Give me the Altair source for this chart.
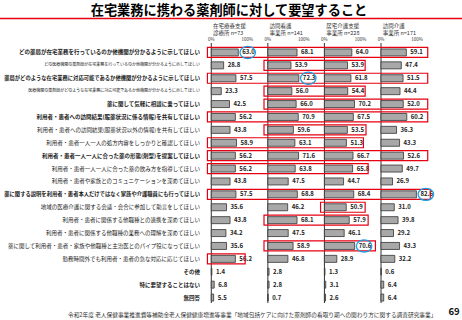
import altair as alt
import pandas as pd

TITLE = "在宅業務に携わる薬剤師に対して要望すること"
PANELS = ["在宅療養支援\n診療所 n=73", "訪問看護\n事業所 n=141", "居宅介護支援\n事業所 n=228", "訪問介護\n事業所 n=171"]
ITEMS = [
    "どの薬局が在宅業務を行っているのか他機関が分かるように示してほしい",
    "どの医療機関の薬剤師が在宅業務を行っているのか他機関が分かるように示してほしい",
    "薬局がどのような在宅業務に対応可能であるか他機関が分かるように示してほしい",
    "医療機関の薬剤師がどのような在宅業務に対応可能であるか他機関が分かるように示してほしい",
    "薬に関して気軽に相談に乗ってほしい",
    "利用者・患者への訪問結果(服薬状況に係る情報)を共有してほしい",
    "利用者・患者への訪問結果(服薬状況以外の情報)を共有してほしい",
    "利用者・患者一人一人の処方内容をしっかりと確認してほしい",
    "利用者・患者一人一人に合った薬の形態(剤型)を提案してほしい",
    "利用者・患者一人一人に合った薬の飲み方を指導してほしい",
    "利用者・患者や家族とのコミュニケーションを深めてほしい",
    "薬に関する説明を利用者・患者本人だけではなく家族や介護職員にも行ってほしい",
    "地域の医療介護に関する会議・会合に参加して助言をしてほしい",
    "利用者・患者に関係する他職種との連携を深めてほしい",
    "利用者・患者に関係する他職種の業務への理解を深めてほしい",
    "薬に関して利用者・患者・家族や他職種と主治医とのパイプ役になってほしい",
    "勤務時間外でも利用者・患者の急な対応に応じてほしい",
    "その他",
    "特に要望することはない",
    "無回答",
]
CLINIC = [63.0, 28.8, 57.5, 23.3, 42.5, 56.2, 43.8, 58.9, 56.2, 56.2, 43.8, 57.5, 35.6, 43.8, 34.2, 35.6, 56.2, 1.4, 6.8, 5.5]
NURSING = [68.1, 53.9, 72.3, 56.0, 66.0, 70.9, 59.6, 63.1, 71.6, 63.8, 47.5, 68.8, 46.2, 68.1, 47.5, 58.9, 46.8, 2.8, 2.8, 0.7]
CAREMGMT = [64.0, 53.9, 61.8, 54.4, 70.2, 67.5, 53.5, 51.3, 66.7, 65.8, 44.7, 68.4, 50.9, 57.9, 46.1, 70.6, 28.9, 1.3, 3.1, 2.6]
HOMECARE = [59.1, 47.4, 51.5, 44.4, 52.0, 60.2, 36.3, 43.3, 52.6, 49.7, 26.9, 82.6, 31.0, 39.8, 29.2, 43.3, 32.2, 0.6, 6.4, 6.4]

# red highlight boxes: row index, first panel, last panel, right edge (% of last panel)
BOX_ROW = [0, 1, 2, 3, 4, 5, 6, 7, 8, 9, 11, 12, 13, 15, 16]
BOX_FIRST = [0, 1, 0, 1, 1, 0, 1, 0, 0, 0, 0, 2, 1, 1, 0]
BOX_LAST = [3, 2, 3, 2, 3, 3, 2, 2, 3, 2, 3, 2, 2, 2, 0]
BOX_END = [109, 95, 109, 95, 109, 109, 97, 91, 109, 102, 115, 95, 102, 119, 79]

# blue circles: row index, panel
CIRCLE_ROW = [0, 2, 11, 15]
CIRCLE_PANEL = [0, 1, 3, 2]

FOOTNOTE = "令和2年度 老人保健事業推進費等補助金老人保健健康増進等事業「地域包括ケアに向けた薬剤師の看取り期への関わり方に関する調査研究事業」"
PAGE = "69"

# ---- styles ----
FONT = "Noto Sans CJK JP"
STEP = 132
BOLD_ROWS = [0, 2, 4, 5, 8, 11, 17, 18, 19]
TINY_ROWS = [1, 3]
NARROW_ROWS = [2, 11]
ELLIPSE = "M-1,0A1,0.78,0,1,1,1,0A1,0.78,0,1,1,-1,0Z"

series = [CLINIC, NURSING, CAREMGMT, HOMECARE]
val_df = pd.DataFrame(
    [{"item": ITEMS[i], "panel": p, "value": v} for p, s in enumerate(series) for i, v in enumerate(s)]
)
lab_df = pd.DataFrame({
    "item": ITEMS,
    "fs": [4.0 if i in TINY_ROWS else (5.3 if i in NARROW_ROWS else 5.5) for i in range(len(ITEMS))],
    "bold": [i in BOLD_ROWS for i in range(len(ITEMS))],
})
box_df = pd.DataFrame({
    "item": [ITEMS[r] for r in BOX_ROW],
    "first": BOX_FIRST, "last": BOX_LAST, "endpct": BOX_END,
})
circ_df = pd.DataFrame({
    "item": [ITEMS[r] for r in CIRCLE_ROW],
    "panel": CIRCLE_PANEL,
    "value": [series[p][r] for r, p in zip(CIRCLE_ROW, CIRCLE_PANEL)],
})
panel_df = pd.DataFrame({"panel": list(range(4)), "header": PANELS})
tick_df = pd.DataFrame({"panel": [0, 1, 2, 3] * 2, "pct": [0] * 4 + [100] * 4,
                        "label": ["0%"] * 4 + ["100%"] * 4})
one = pd.DataFrame({"t": [TITLE], "f": [FOOTNOTE], "p": [PAGE]})

x_scale = alt.Scale(domain=[-10, 515], nice=False, zero=False)
y_enc = alt.Y("item:N", sort=ITEMS, scale=alt.Scale(domain=ITEMS, paddingInner=0, paddingOuter=0), axis=None)

bars = alt.Chart(val_df).transform_calculate(
    x0=f"datum.panel*{STEP}", x1=f"datum.panel*{STEP}+datum.value"
).mark_bar(size=7, fill="#a8a8a8", stroke="#333333", strokeWidth=0.8).encode(
    x=alt.X("x0:Q", scale=x_scale, axis=None), x2="x1:Q", y=y_enc
)

vals = alt.Chart(val_df).transform_calculate(
    x1=f"datum.panel*{STEP}+datum.value"
).mark_text(align="left", baseline="middle", dx=4, fontSize=6, font=FONT, fontWeight="bold", color="#222222").encode(
    x=alt.X("x1:Q", scale=x_scale, axis=None), y=y_enc, text=alt.Text("value:Q", format=".1f")
)

boxes = alt.Chart(box_df).transform_calculate(
    bx0=f"datum.first*{STEP}-9", bx1=f"datum.last*{STEP}+datum.endpct"
).mark_bar(size=10, fillOpacity=0, stroke="#e60012", strokeWidth=1.2).encode(
    x=alt.X("bx0:Q", scale=x_scale, axis=None), x2="bx1:Q", y=y_enc
)

circles = alt.Chart(circ_df).transform_calculate(
    cx=f"datum.panel*{STEP}+datum.value+22"
).mark_point(shape=ELLIPSE, size=240, filled=False, stroke="#1e9fe3", strokeWidth=1.3, opacity=1).encode(
    x=alt.X("cx:Q", scale=x_scale, axis=None), y=y_enc
)

plines = alt.Chart(panel_df).transform_calculate(
    px=f"datum.panel*{STEP}"
).mark_rule(color="#333333", strokeWidth=1).encode(
    x=alt.X("px:Q", scale=x_scale, axis=None), y=alt.value(-3), y2=alt.value(257)
)

headers = alt.Chart(panel_df).transform_calculate(
    px=f"datum.panel*{STEP}+4"
).mark_text(align="left", baseline="middle", fontSize=5.5, font=FONT, color="#333333", lineBreak="\n", lineHeight=7).encode(
    x=alt.X("px:Q", scale=x_scale, axis=None), y=alt.value(-20), text="header:N"
)

ticks0 = alt.Chart(tick_df).transform_filter("datum.pct == 0").transform_calculate(
    px=f"datum.panel*{STEP}+datum.pct"
).mark_text(align="center", baseline="middle", fontSize=4.5, font=FONT, color="#333333").encode(
    x=alt.X("px:Q", scale=x_scale, axis=None), y=alt.value(-6), text="label:N"
)
ticks100 = alt.Chart(tick_df).transform_filter("datum.pct == 100").transform_calculate(
    px=f"datum.panel*{STEP}+datum.pct"
).mark_text(align="right", baseline="middle", dx=-1, fontSize=4.5, font=FONT, color="#333333").encode(
    x=alt.X("px:Q", scale=x_scale, axis=None), y=alt.value(-6), text="label:N"
)

labels_bold = alt.Chart(lab_df).transform_filter("datum.bold").mark_text(
    align="right", baseline="middle", font=FONT, fontWeight="bold", color="#1a1a1a"
).encode(x=alt.value(-7), y=y_enc, text="item:N", size=alt.Size("fs:Q", scale=None, legend=None))
labels_norm = alt.Chart(lab_df).transform_filter("!datum.bold").mark_text(
    align="right", baseline="middle", font=FONT, fontWeight="normal", color="#1a1a1a"
).encode(x=alt.value(-7), y=y_enc, text="item:N", size=alt.Size("fs:Q", scale=None, legend=None))

title = alt.Chart(one).mark_text(align="center", baseline="middle", fontSize=13.2, font=FONT, fontWeight="bold", color="#000000").encode(
    x=alt.value(22), y=alt.value(-35), text="t:N")
redline = alt.Chart(one).mark_rule(color="#e60012", strokeWidth=1.6).encode(
    x=alt.value(-207), x2=alt.value(255), y=alt.value(-27.5))
foot = alt.Chart(one).mark_text(align="left", baseline="middle", fontSize=5.7, font=FONT, color="#333333").encode(
    x=alt.value(-139), y=alt.value(269), text="f:N")
page = alt.Chart(one).mark_text(align="center", baseline="middle", fontSize=9.5, font=FONT, fontWeight="bold", color="#111111").encode(
    x=alt.value(247), y=alt.value(266), text="p:N")

chart = alt.layer(
    plines, bars, vals, boxes, circles, headers, ticks0, ticks100,
    labels_bold, labels_norm, title, redline, foot, page
).properties(
    width=225, height=258,
    padding={"left": 207, "top": 46, "right": 30, "bottom": 16},
    autosize=alt.AutoSizeParams(type="none"),
    background="white",
).configure_view(stroke=None)

chart.save("out.html", embed_options={"renderer": "svg", "actions": False})
